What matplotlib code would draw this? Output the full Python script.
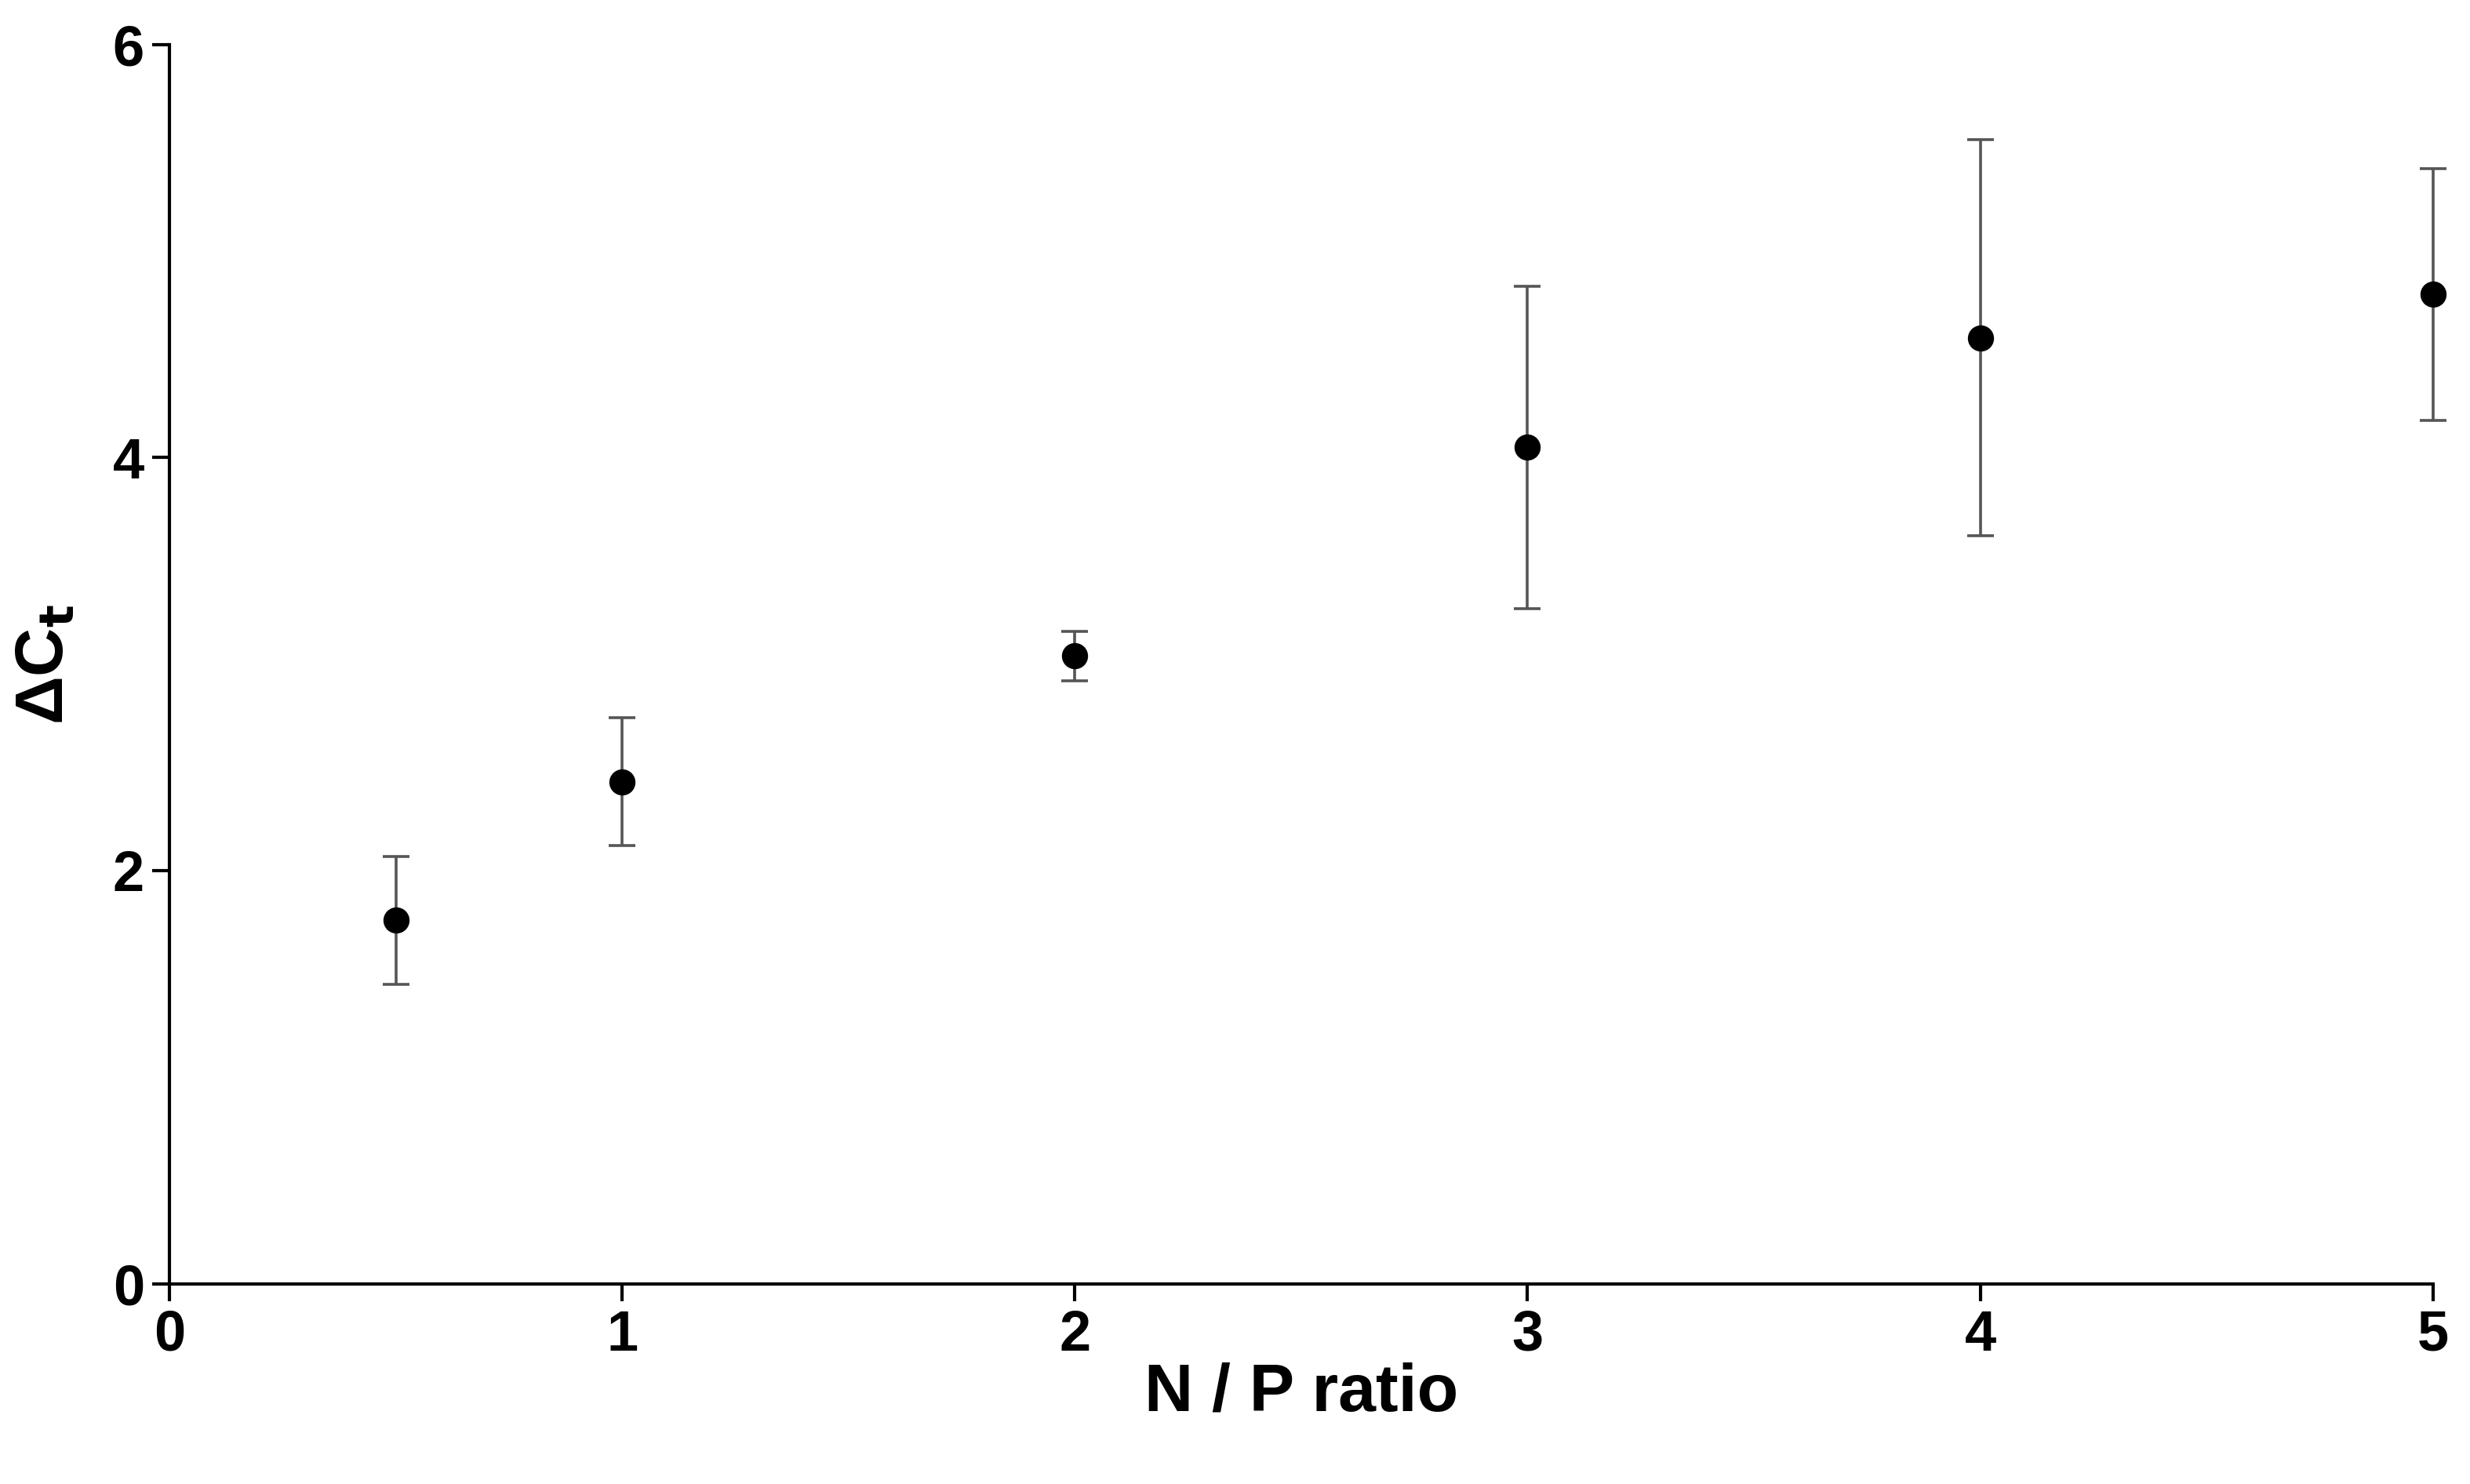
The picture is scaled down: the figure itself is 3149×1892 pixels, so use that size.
import matplotlib.pyplot as plt

plt.rcParams['font.family'] = ['Liberation Sans', 'DejaVu Sans']
plt.rcParams['font.weight'] = 'bold'

# N/P ratio vs delta Ct, with error bars
np_ratio = [0.5, 1, 2, 3, 4, 5]
delta_ct = [1.76, 2.43, 3.04, 4.05, 4.58, 4.79]
err = [0.31, 0.31, 0.12, 0.78, 0.96, 0.61]

fig = plt.figure(figsize=(15.745, 9.46), dpi=200)
ax = fig.add_axes([0.0686, 0.135, 0.9164, 0.835])

_, caps, bars = ax.errorbar(np_ratio, delta_ct, yerr=err, fmt='o', color='black', markersize=11,
                            ecolor='#555555', elinewidth=1.3, capsize=6, capthick=1.3)
for art in [ax.lines[0], *caps, *bars]:
    art.set_clip_on(False)
for line in ax.lines:
    line.set_clip_on(False)

ax.set_xlim(0, 5)
ax.set_ylim(0, 6)
ax.set_xticks([0, 1, 2, 3, 4, 5])
ax.set_yticks([0, 2, 4, 6])
ax.spines['top'].set_visible(False)
ax.spines['right'].set_visible(False)
ax.spines['left'].set_linewidth(1.5)
ax.spines['bottom'].set_linewidth(1.5)
ax.tick_params(direction='out', length=8, width=1.5, labelsize=26)
ax.set_xlabel('N / P ratio', fontsize=31, fontweight='bold', labelpad=0)
ax.set_ylabel(r'ΔC$_\mathbf{t}$', fontsize=31, fontweight='bold', labelpad=16)

fig.savefig('out.png', dpi=200)
